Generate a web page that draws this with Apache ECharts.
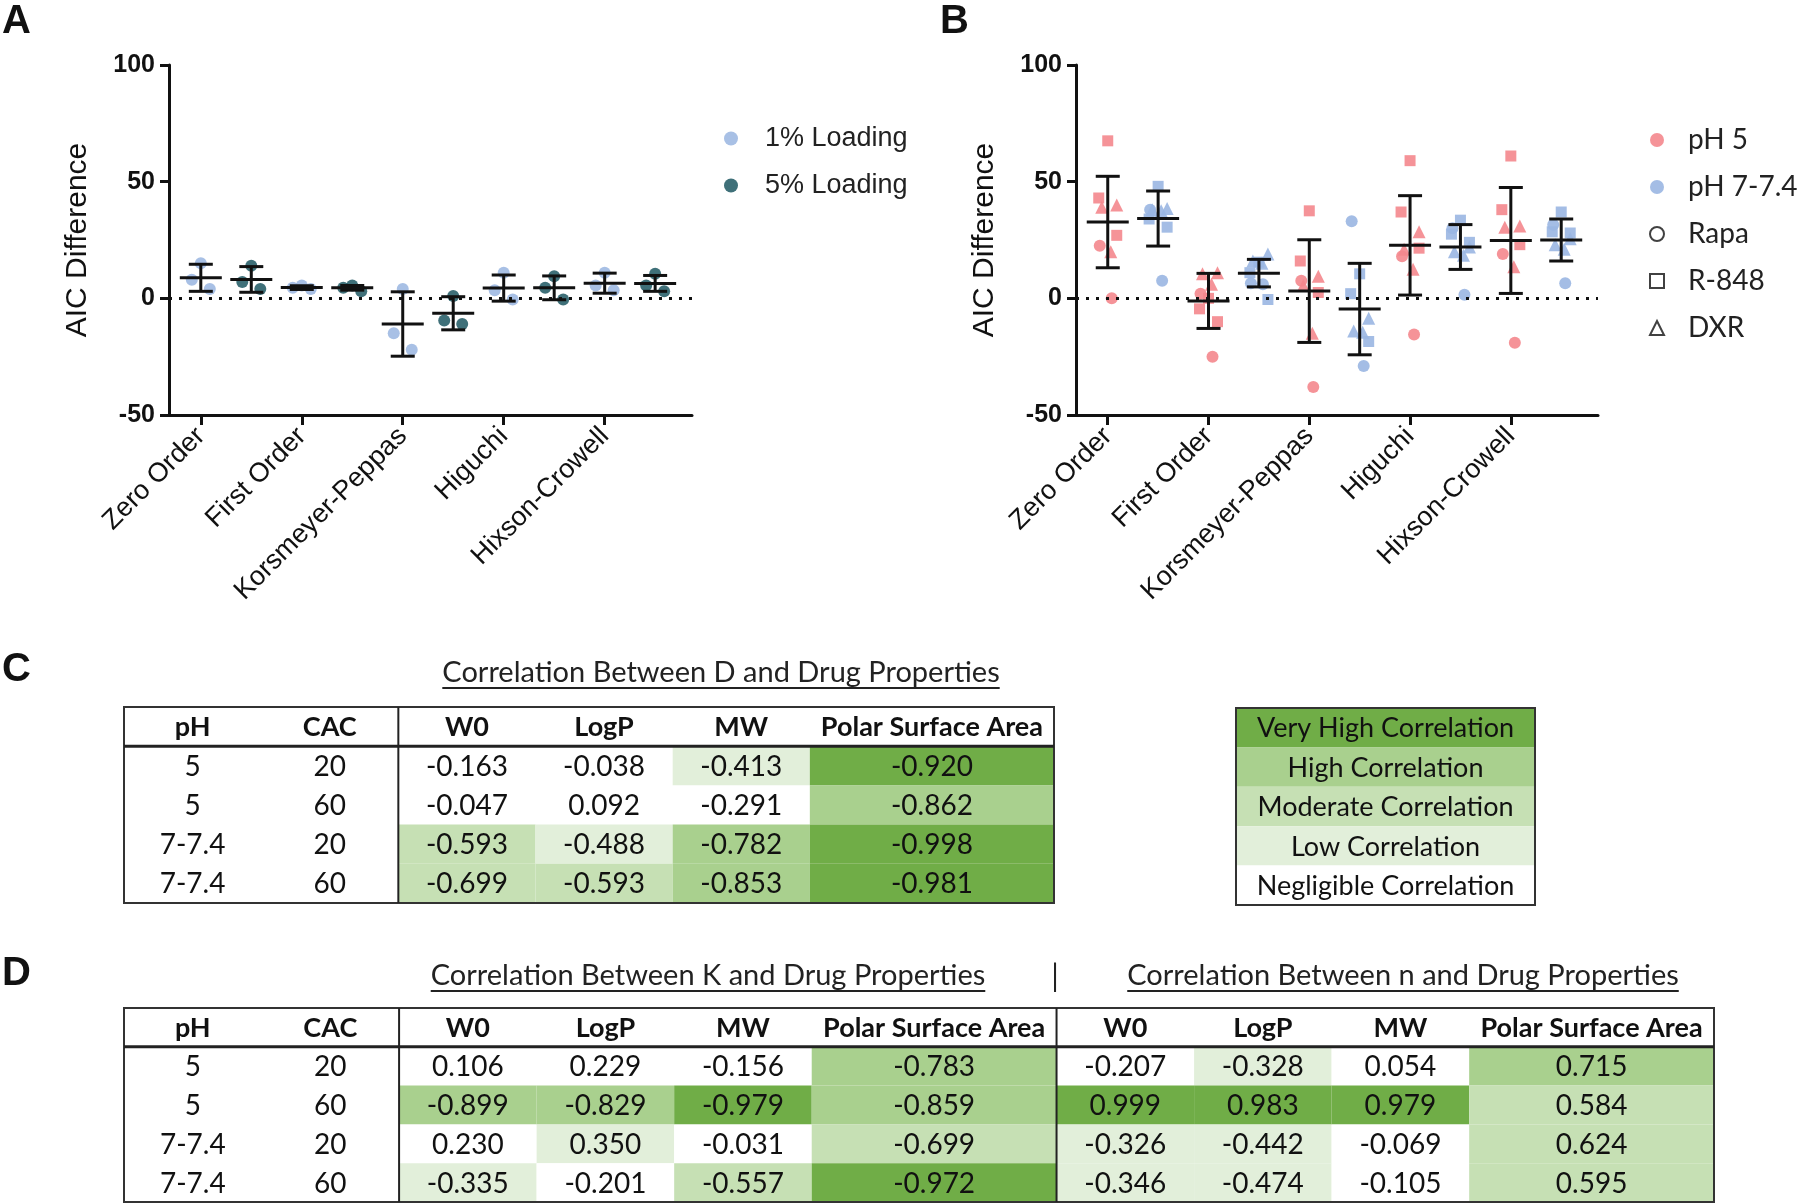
<!DOCTYPE html>
<html>
<head>
<meta charset="utf-8"/>
<title>AIC difference and correlation tables</title>
<script src="https://cdn.jsdelivr.net/npm/echarts@6/dist/echarts.min.js"></script>
<style>body{margin:0;background:#fff;}</style>
</head>
<body>
<div id="chart" style="width:1800px;height:1204px;"></div>
<script>
// ---- panel A : AIC difference per model, 1% vs 5% loading
var models = ['Zero Order', 'First Order', 'Korsmeyer-Peppas', 'Higuchi', 'Hixson-Crowell'];
var aLoad1 = [[15, 8, 4], [5.5, 4.5, 4], [4, -15, -22], [11, 3.5, -0.5], [11, 5.5, 3.5]];
var aLoad5 = [[14, 7, 4], [5.5, 4.5, 3], [1, -9.5, -11], [9.5, 4.5, -0.5], [10.5, 5.5, 3]];
// mean / SD per column (1%, 5%, 1%, 5% ...)
var aMean = [8.8, 8.1, 4.6, 4.5, -11, -6.4, 4.4, 4.5, 6.5, 6.4];
var aSD = [5.8, 5.5, 0.8, 1, 13.8, 7.1, 5.6, 5.1, 4.3, 3.4];

// ---- panel B : per column (pH 5, pH 7-7.4, pH 5, ...), points per drug
var bRapa = [[22.5, 0], [38, 7.5], [2, -25], [6.5, 6], [7.5, -38], [33, -29], [18, -15.5], [30, 1.5], [19, -19], [31.5, 6.5]];
var bR848 = [[67.5, 43, 27], [48, 34, 30.5], [0, -4.5, -10], [15.5, 11, -0.5], [37.5, 16, 2.5], [10.5, 2, -18.5], [59, 37, 21.5], [33.5, 27.5, 24], [61, 38, 23], [37, 28.5, 28]];
var bDXR = [[40, 39, 20], [38.5, 38, 37.5], [11, 10.5, 6], [19, 16, 15], [9.5, 5.5, -15], [-8.5, -14, -14.5], [28.5, 21, 12.5], [22, 20, 18.5], [31, 30.5, 13.5], [25.5, 23, 21]];
var bMean = [32.7, 34.2, -1.1, 10.8, 3.1, -4.6, 22.7, 22, 24.8, 25];
var bSD = [19.6, 11.8, 11.8, 5.9, 22, 19.6, 21.3, 9.6, 22.7, 9];

// ---- tables C / D
var tblHead = ['W0', 'LogP', 'MW', 'Polar Surface Area'];
var rowPH = ['5', '5', '7-7.4', '7-7.4'];
var rowCAC = ['20', '60', '20', '60'];
var corrD = [[-0.163, -0.038, -0.413, -0.920], [-0.047, 0.092, -0.291, -0.862], [-0.593, -0.488, -0.782, -0.998], [-0.699, -0.593, -0.853, -0.981]];
var corrK = [[0.106, 0.229, -0.156, -0.783], [-0.899, -0.829, -0.979, -0.859], [0.230, 0.350, -0.031, -0.699], [-0.335, -0.201, -0.557, -0.972]];
var corrN = [[-0.207, -0.328, 0.054, 0.715], [0.999, 0.983, 0.979, 0.584], [-0.326, -0.442, -0.069, 0.624], [-0.346, -0.474, -0.105, 0.595]];
var levelNames = ['Very High Correlation', 'High Correlation', 'Moderate Correlation', 'Low Correlation', 'Negligible Correlation'];
var levelMin = [0.9, 0.7, 0.5, 0.3, 0];

// styles
var levelColors = ['#70ad47', '#a9d08e', '#c6e0b4', '#e2efda', '#ffffff'];
var ink = '#111';
var arial = 'Liberation Sans';
var cal = 'Lato';

function levelColor(v) {
  var a = Math.abs(v);
  for (var i = 0; i < levelMin.length; i++) if (a >= levelMin[i]) return levelColors[i];
  return '#fff';
}

var myChart = echarts.init(document.getElementById('chart'), null, {renderer: 'canvas'});

// plot axes
function plotX(g) {
  return {
    type: 'value', gridIndex: g, min: -0.63, max: 9.73,
    axisLine: {onZero: false, lineStyle: {color: ink, width: 3}},
    axisTick: {show: true, customValues: [0, 2, 4, 6, 8], length: 10, lineStyle: {color: ink, width: 3}},
    axisLabel: {customValues: [0, 2, 4, 6, 8], rotate: 45, margin: 17, fontSize: 27, color: ink, fontFamily: arial,
      formatter: function (v) { return models[Math.round(v / 2)]; }},
    splitLine: {show: false}
  };
}
function plotY(g) {
  return {
    type: 'value', gridIndex: g, min: -50, max: 100, interval: 50,
    axisLine: {show: true, onZero: false, lineStyle: {color: ink, width: 3}},
    axisTick: {show: true, length: 9, lineStyle: {color: ink, width: 3}},
    axisLabel: {margin: 14, fontSize: 25, fontWeight: 'bold', color: ink, fontFamily: arial},
    splitLine: {show: false},
    name: 'AIC Difference', nameLocation: 'middle', nameGap: 76,
    nameTextStyle: {fontSize: 30, color: ink, fontFamily: arial}
  };
}

function errSeries(g, mean, sd) {
  return {
    type: 'custom', xAxisIndex: g, yAxisIndex: g, z: 10, silent: true,
    data: mean.map(function (m, i) { return [i, m, sd[i]]; }),
    renderItem: function (params, api) {
      var x = api.value(0), m = api.value(1), s = api.value(2);
      var t = api.coord([x, m + s]), c = api.coord([x, m]), b = api.coord([x, m - s]);
      var st = {stroke: ink, lineWidth: 3};
      return {type: 'group', children: [
        {type: 'line', shape: {x1: t[0], y1: t[1], x2: b[0], y2: b[1]}, style: st},
        {type: 'line', shape: {x1: t[0] - 12, y1: t[1], x2: t[0] + 12, y2: t[1]}, style: st},
        {type: 'line', shape: {x1: b[0] - 12, y1: b[1], x2: b[0] + 12, y2: b[1]}, style: st},
        {type: 'line', shape: {x1: c[0] - 21, y1: c[1], x2: c[0] + 21, y2: c[1]}, style: st}
      ]};
    }
  };
}
var zeroLine = {silent: true, symbol: 'none', label: {show: false},
  lineStyle: {type: [3, 7], color: ink, width: 3}, data: [{yAxis: 0}]};

var offA = [0, -9, 9];
function aPoints(arr, shift) {
  var out = [];
  arr.forEach(function (pts, m) {
    pts.forEach(function (v, k) { out.push({value: [2 * m + shift, v], symbolOffset: [offA[k], 0]}); });
  });
  return out;
}
var offRapa = [-8, 4], offR848 = [0, -9, 9], offDXR = [9, -6, 3];
function bPoints(parity) {
  var out = [];
  for (var c = parity; c < 10; c += 2) {
    bRapa[c].forEach(function (v, k) { out.push({value: [c, v], symbol: 'circle', symbolSize: 12, symbolOffset: [offRapa[k], 0]}); });
    bR848[c].forEach(function (v, k) { out.push({value: [c, v], symbol: 'rect', symbolSize: 11, symbolOffset: [offR848[k], 0]}); });
    bDXR[c].forEach(function (v, k) { out.push({value: [c, v], symbol: 'triangle', symbolSize: 13, symbolOffset: [offDXR[k], 0]}); });
  }
  return out;
}

// tables
function sum(a) { return a.reduce(function (s, v) { return s + v; }, 0); }
function buildCells(sections) {
  var cells = [];
  var heads = ['pH', 'CAC'];
  sections.forEach(function () { heads = heads.concat(tblHead); });
  heads.forEach(function (h, i) { cells.push({col: i, row: 0, text: h, bold: true, fill: '#fff'}); });
  rowPH.forEach(function (p, r) {
    cells.push({col: 0, row: r + 1, text: p, fill: '#fff'});
    cells.push({col: 1, row: r + 1, text: rowCAC[r], fill: '#fff'});
    sections.forEach(function (mat, s) {
      mat[r].forEach(function (v, j) {
        cells.push({col: 2 + s * 4 + j, row: r + 1, text: v.toFixed(3), fill: levelColor(v)});
      });
    });
  });
  return cells;
}
function tableSeries(g, widths, cells, rows, vlines, headLine, fontPx) {
  var edges = [0];
  widths.forEach(function (w, i) { edges.push(edges[i] + w); });
  var cellS = {
    type: 'custom', xAxisIndex: g, yAxisIndex: g, silent: true,
    data: cells.map(function (c) { return [c.col, c.row]; }),
    renderItem: function (params, api) {
      var c = cells[params.dataIndex];
      var p0 = api.coord([edges[c.col], c.row]);
      var p1 = api.coord([edges[c.col + 1], c.row + 1]);
      return {type: 'group', children: [
        {type: 'rect', shape: {x: p0[0], y: p0[1], width: p1[0] - p0[0], height: p1[1] - p0[1]}, style: {fill: c.fill}},
        {type: 'text', x: (p0[0] + p1[0]) / 2, y: (p0[1] + p1[1]) / 2 + 1,
          style: {text: c.text, fill: ink, font: (c.bold ? 'bold 27px ' : fontPx + 'px ') + cal, align: 'center', verticalAlign: 'middle'}}
      ]};
    }
  };
  var frameS = {
    type: 'custom', xAxisIndex: g, yAxisIndex: g, silent: true, z: 5,
    data: [[0, 0]],
    renderItem: function (params, api) {
      var tl = api.coord([0, 0]), br = api.coord([edges[edges.length - 1], rows]);
      var kids = [{type: 'rect', shape: {x: tl[0], y: tl[1], width: br[0] - tl[0], height: br[1] - tl[1]},
        style: {fill: 'none', stroke: '#333', lineWidth: 2}}];
      if (headLine) {
        var h = api.coord([0, 1]);
        kids.push({type: 'line', shape: {x1: tl[0], y1: h[1], x2: br[0], y2: h[1]}, style: {stroke: '#222', lineWidth: 3}});
      }
      vlines.forEach(function (e) {
        var p = api.coord([edges[e], 0]);
        kids.push({type: 'line', shape: {x1: p[0], y1: tl[1], x2: p[0], y2: br[1]}, style: {stroke: '#222', lineWidth: 2}});
      });
      return {type: 'group', children: kids};
    }
  };
  return [cellS, frameS];
}

var wC = [1, 1, 1, 1, 1, 1.78];
var wD = [1, 1, 1, 1, 1, 1.78, 1, 1, 1, 1.78];
var cellsC = buildCells([corrD]);
var cellsD = buildCells([corrK, corrN]);
var cellsL = levelNames.map(function (n, i) { return {col: 0, row: i, text: n, fill: levelColors[i]}; });

function tblAxes(g, total) {
  return {
    x: {type: 'value', gridIndex: g, min: 0, max: total, show: false},
    y: {type: 'value', gridIndex: g, min: 0, max: 5, inverse: true, show: false}
  };
}
var axC = tblAxes(2, sum(wC)), axD = tblAxes(3, sum(wD)), axL = tblAxes(4, 1);

// underlined titles
var mctx = document.createElement('canvas').getContext('2d');
function ulTitle(cx, cy, text) {
  var f = '29px ' + cal;
  mctx.font = f;
  var w = mctx.measureText(text).width;
  return [
    {type: 'text', x: cx, y: cy, style: {text: text, font: f, fill: '#222', align: 'center', verticalAlign: 'middle'}},
    {type: 'line', shape: {x1: cx - w / 2, y1: cy + 15, x2: cx + w / 2, y2: cy + 15}, style: {stroke: '#222', lineWidth: 2}}
  ];
}
function letter(x, y, t) {
  return {type: 'text', x: x, y: y, style: {text: t, font: 'bold 40px ' + arial, fill: ink}};
}

var graphics = [letter(2, 2, 'A'), letter(940, 2, 'B'), letter(2, 650, 'C'), letter(2, 954, 'D')]
  .concat(ulTitle(721, 673, 'Correlation Between D and Drug Properties'))
  .concat(ulTitle(708, 976, 'Correlation Between K and Drug Properties'))
  .concat(ulTitle(1403, 976, 'Correlation Between n and Drug Properties'))
  .concat([{type: 'text', x: 1055, y: 977, style: {text: '|', font: '30px ' + cal, fill: '#222', align: 'center', verticalAlign: 'middle'}}]);

var hollow = {borderWidth: 3.5};
var option = {
  animation: false,
  backgroundColor: '#fff',
  graphic: graphics,
  grid: [
    {left: 169, top: 65, width: 523, height: 350},
    {left: 1076, top: 65, width: 522, height: 350},
    {left: 124, top: 707, width: 930, height: 196},
    {left: 124, top: 1008, width: 1590, height: 194},
    {left: 1236, top: 708, width: 299, height: 197}
  ],
  xAxis: [plotX(0), plotX(1), axC.x, axD.x, axL.x],
  yAxis: [plotY(0), plotY(1), axC.y, axD.y, axL.y],
  legend: [
    {data: ['1% Loading', '5% Loading'], orient: 'vertical', left: 719, top: 120, itemWidth: 14, itemHeight: 14,
      itemGap: 20, selectedMode: false, textStyle: {fontSize: 27, color: '#222', fontFamily: arial, padding: [0, 0, 0, 22]}},
    {data: ['pH 5', 'pH 7-7.4', {name: 'Rapa', itemStyle: hollow}, {name: 'R-848', itemStyle: hollow}, {name: 'DXR', itemStyle: hollow}],
      orient: 'vertical', left: 1644, top: 121, itemWidth: 14, itemHeight: 14,
      itemGap: 19, selectedMode: false, textStyle: {fontSize: 28, color: '#222', fontFamily: cal, padding: [0, 0, 0, 19]}}
  ],
  series: [
    {name: '1% Loading', type: 'scatter', xAxisIndex: 0, yAxisIndex: 0, symbol: 'circle', symbolSize: 12,
      itemStyle: {color: '#9fb9e2', opacity: 0.9}, data: aPoints(aLoad1, 0), markLine: zeroLine},
    {name: '5% Loading', type: 'scatter', xAxisIndex: 0, yAxisIndex: 0, symbol: 'circle', symbolSize: 12,
      itemStyle: {color: '#0f4c57'}, data: aPoints(aLoad5, 1)},
    errSeries(0, aMean, aSD),
    {name: 'pH 5', type: 'scatter', xAxisIndex: 1, yAxisIndex: 1, symbol: 'circle', symbolSize: 12,
      itemStyle: {color: '#f4878d', opacity: 0.9}, data: bPoints(0), markLine: zeroLine},
    {name: 'pH 7-7.4', type: 'scatter', xAxisIndex: 1, yAxisIndex: 1, symbol: 'circle', symbolSize: 12,
      itemStyle: {color: '#9ab6e2', opacity: 0.9}, data: bPoints(1)},
    {name: 'Rapa', type: 'scatter', xAxisIndex: 1, yAxisIndex: 1, symbol: 'emptyCircle', itemStyle: {color: ink, borderWidth: 3.5}, data: []},
    {name: 'R-848', type: 'scatter', xAxisIndex: 1, yAxisIndex: 1, symbol: 'emptyRect', itemStyle: {color: ink, borderWidth: 3.5}, data: []},
    {name: 'DXR', type: 'scatter', xAxisIndex: 1, yAxisIndex: 1, symbol: 'emptyTriangle', itemStyle: {color: ink, borderWidth: 3.5}, data: []},
    errSeries(1, bMean, bSD)
  ]
  .concat(tableSeries(2, wC, cellsC, 5, [2], true, 28))
  .concat(tableSeries(3, wD, cellsD, 5, [2, 6], true, 28))
  .concat(tableSeries(4, [1], cellsL, 5, [], false, 27))
};
myChart.setOption(option);
</script>
</body>
</html>
